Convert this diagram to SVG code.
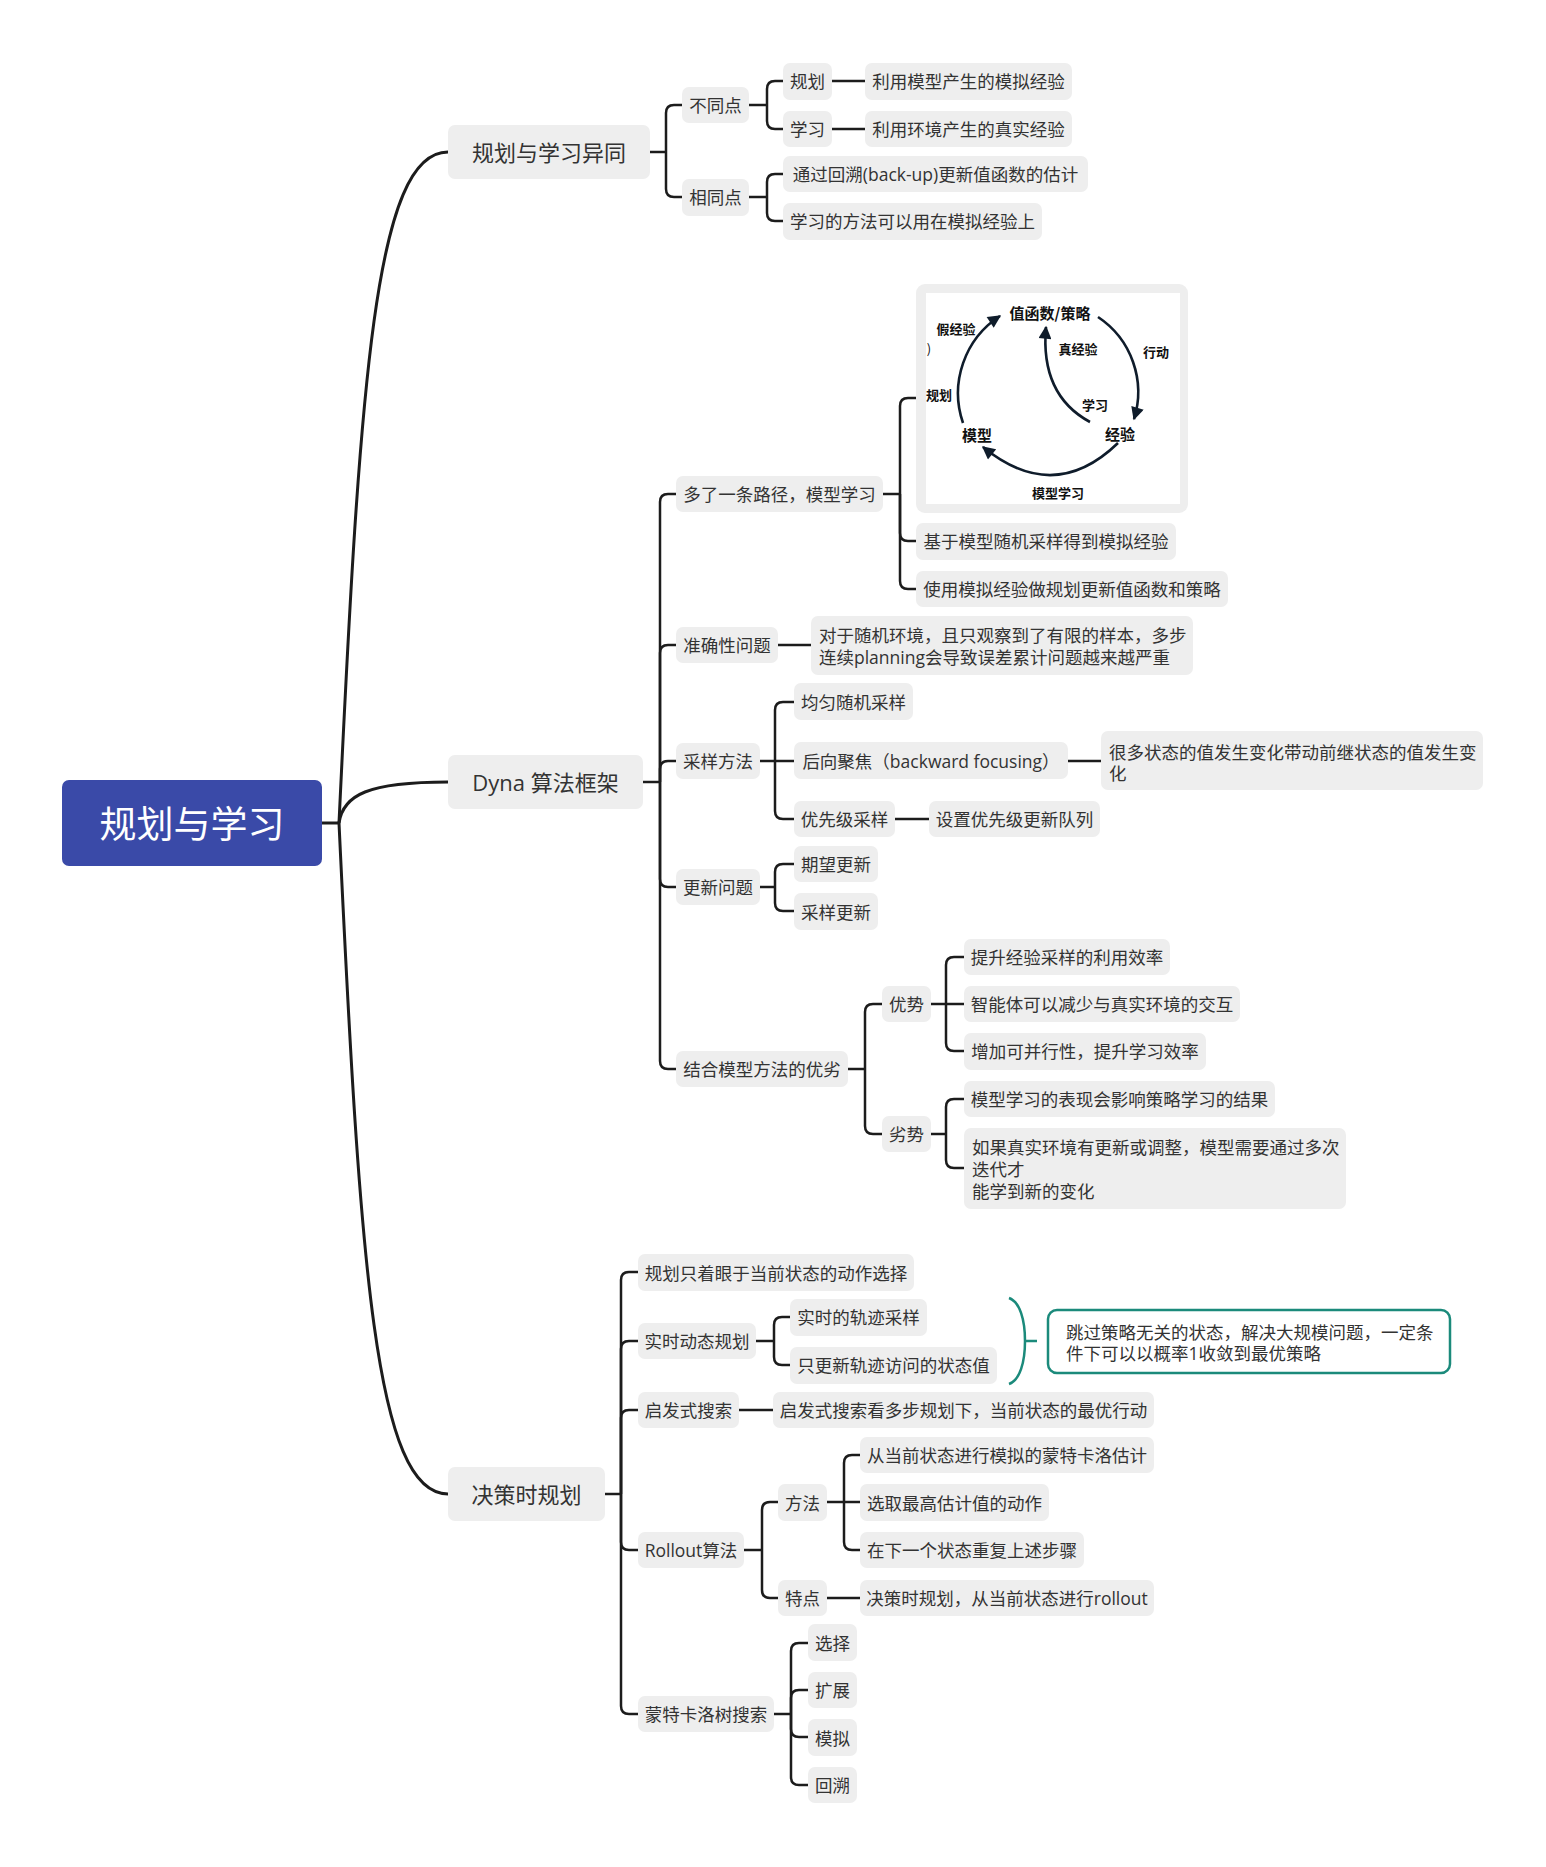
<svg xmlns="http://www.w3.org/2000/svg" width="1546" height="1867" viewBox="0 0 1546 1867">
<defs>
<style>
.n rect{fill:#EEEEEE}
.n rect.w{fill:#FFFFFF}
.t{font-family:"Open Sans","Noto Sans CJK SC",sans-serif;font-size:17.5px;fill:#333333;dominant-baseline:central}
.m{text-anchor:middle}
.l1{font-size:22px}
.c{fill:none;stroke:#1c1c1c;stroke-width:2.5}
.c0{fill:none;stroke:#1c1c1c;stroke-width:3}
.fig{font-family:"Noto Sans CJK SC","Open Sans",sans-serif;font-weight:bold;fill:#111;dominant-baseline:central;text-anchor:middle;font-size:13px}
.arc{fill:none;stroke:#0f1c2b;stroke-width:2.6;marker-end:url(#ah)}
</style>
<marker id="ah" viewBox="0 0 10 10" refX="9" refY="5" markerUnits="userSpaceOnUse" markerWidth="15" markerHeight="13" orient="auto">
<path d="M0,0 L10,5 L0,10 z" fill="#0f1c2b"/>
</marker>
</defs>
<rect width="1546" height="1867" fill="#ffffff"/>

<g id="connectors">
<path class="c0" d="M322,823 H339"/>
<path class="c0" d="M339,823 C360,380 375,152 448,152"/>
<path class="c0" d="M339,823 C343,795 368,782 448,782"/>
<path class="c0" d="M339,823 C360,1266 375,1494 448,1494"/>

<path class="c" d="M650,152 H666"/>
<path class="c" d="M666,152 V113 Q666,105 674,105 H682"/>
<path class="c" d="M666,152 V189 Q666,197 674,197 H682"/>
<path class="c" d="M749,105 H767"/>
<path class="c" d="M767,105 V89 Q767,81 775,81 H783"/>
<path class="c" d="M767,105 V121 Q767,129 775,129 H783"/>
<path class="c" d="M832,81 H865"/>
<path class="c" d="M832,129 H865"/>
<path class="c" d="M749,197 H767"/>
<path class="c" d="M767,197 V182 Q767,174 775,174 H783"/>
<path class="c" d="M767,197 V213 Q767,221 775,221 H783"/>

<path class="c" d="M643,782 H660"/>
<path class="c" d="M660,782 V502 Q660,494 668,494 H676"/>
<path class="c" d="M660,782 V653 Q660,645 668,645 H676"/>
<path class="c" d="M660,782 V769 Q660,761 668,761 H676"/>
<path class="c" d="M660,782 V879 Q660,887 668,887 H676"/>
<path class="c" d="M660,782 V1061 Q660,1069 668,1069 H676"/>
<path class="c" d="M883,494 H900"/>
<path class="c" d="M900,494 V406 Q900,398 908,398 H916"/>
<path class="c" d="M900,494 V533 Q900,541 908,541 H916"/>
<path class="c" d="M900,494 V581 Q900,589 908,589 H916"/>
<path class="c" d="M778,645 H811"/>
<path class="c" d="M760,761 H775"/>
<path class="c" d="M775,761 V710 Q775,702 783,702 H794"/>
<path class="c" d="M775,761 H794"/>
<path class="c" d="M775,761 V811 Q775,819 783,819 H794"/>
<path class="c" d="M1068,761 H1101"/>
<path class="c" d="M895,819 H929"/>
<path class="c" d="M760,887 H775"/>
<path class="c" d="M775,887 V872 Q775,864 783,864 H794"/>
<path class="c" d="M775,887 V903 Q775,911 783,911 H794"/>
<path class="c" d="M848,1069 H865"/>
<path class="c" d="M865,1069 V1012 Q865,1004 873,1004 H882"/>
<path class="c" d="M865,1069 V1126 Q865,1134 873,1134 H882"/>
<path class="c" d="M931,1004 H946"/>
<path class="c" d="M946,1004 V965 Q946,957 954,957 H964"/>
<path class="c" d="M946,1004 H964"/>
<path class="c" d="M946,1004 V1043 Q946,1051 954,1051 H964"/>
<path class="c" d="M931,1134 H946"/>
<path class="c" d="M946,1134 V1107 Q946,1099 954,1099 H964"/>
<path class="c" d="M946,1134 V1160 Q946,1168 954,1168 H964"/>

<path class="c" d="M605,1494 H621"/>
<path class="c" d="M621,1494 V1280 Q621,1272 629,1272 H638"/>
<path class="c" d="M621,1494 V1349 Q621,1341 629,1341 H638"/>
<path class="c" d="M621,1494 V1418 Q621,1410 629,1410 H638"/>
<path class="c" d="M621,1494 V1542 Q621,1550 629,1550 H638"/>
<path class="c" d="M621,1494 V1706 Q621,1714 629,1714 H638"/>
<path class="c" d="M756,1341 H774"/>
<path class="c" d="M774,1341 V1325 Q774,1317 782,1317 H790"/>
<path class="c" d="M774,1341 V1357 Q774,1365 782,1365 H790"/>
<path class="c" d="M739,1410 H773"/>
<path class="c" d="M744,1550 H762"/>
<path class="c" d="M762,1550 V1510 Q762,1502 770,1502 H778"/>
<path class="c" d="M762,1550 V1590 Q762,1598 770,1598 H778"/>
<path class="c" d="M827,1502 H844"/>
<path class="c" d="M844,1502 V1463 Q844,1455 852,1455 H860"/>
<path class="c" d="M844,1502 H860"/>
<path class="c" d="M844,1502 V1542 Q844,1550 852,1550 H860"/>
<path class="c" d="M827,1598 H860"/>
<path class="c" d="M774,1714 H791"/>
<path class="c" d="M791,1714 V1651 Q791,1643 799,1643 H808"/>
<path class="c" d="M791,1714 V1698 Q791,1690 799,1690 H808"/>
<path class="c" d="M791,1714 V1729 Q791,1737 799,1737 H808"/>
<path class="c" d="M791,1714 V1777 Q791,1785 799,1785 H808"/>
</g>

<g id="root"><rect x="62" y="780" width="260" height="86" rx="7" fill="#3A4AA8"/><text class="t m" x="192" y="823" style="font-size:37px;fill:#ffffff">规划与学习</text></g>

<g id="n-yitong" class="n"><rect x="448" y="125" width="202" height="54" rx="7"/><text class="t m l1" x="549" y="152">规划与学习异同</text></g>
<g id="n-butong" class="n"><rect x="682" y="87" width="67" height="36" rx="7"/><text class="t m" x="715.5" y="105">不同点</text></g>
<g id="n-guihua" class="n"><rect x="783" y="63" width="49" height="37" rx="7"/><text class="t m" x="807.5" y="81">规划</text></g>
<g id="n-xuexi" class="n"><rect x="783" y="111" width="49" height="36" rx="7"/><text class="t m" x="807.5" y="129">学习</text></g>
<g id="n-moni" class="n"><rect x="865" y="63" width="207" height="37" rx="7"/><text class="t m" x="968.5" y="81">利用模型产生的模拟经验</text></g>
<g id="n-zhenshi" class="n"><rect x="865" y="111" width="207" height="36" rx="7"/><text class="t m" x="968.5" y="129">利用环境产生的真实经验</text></g>
<g id="n-xiangtong" class="n"><rect x="682" y="179" width="67" height="37" rx="7"/><text class="t m" x="715.5" y="197">相同点</text></g>
<g id="n-huisu1" class="n"><rect x="783" y="156" width="305" height="36" rx="7"/><text class="t m" x="935.5" y="174">通过回溯(back-up)更新值函数的估计</text></g>
<g id="n-fangfa1" class="n"><rect x="783" y="203" width="259" height="37" rx="7"/><text class="t m" x="912.5" y="221">学习的方法可以用在模拟经验上</text></g>

<g id="n-dyna" class="n"><rect x="448" y="755" width="195" height="54" rx="7"/><text class="t m l1" x="545.5" y="782">Dyna 算法框架</text></g>
<g id="n-lujing" class="n"><rect x="676" y="476" width="207" height="36" rx="7"/><text class="t m" x="779.5" y="494">多了一条路径，模型学习</text></g>
<g id="n-figure" class="n"><rect x="916" y="284" width="272" height="229" rx="9"/>
<rect class="w" x="926" y="293" width="254" height="211"/>
<path class="arc" d="M963,423 A92,92 0 0 1 1000,316"/>
<path class="arc" d="M1098,317 A90,90 0 0 1 1134,419"/>
<path class="arc" d="M1118,443 Q1054,505 983,447"/>
<path class="arc" d="M1090,422 Q1040,395 1046,327"/>
<text class="fig" x="1050" y="312" style="font-size:15px">值函数/策略</text>
<text class="fig" x="956" y="328">假经验</text>
<text class="fig" x="929" y="348" style="font-weight:normal">)</text>
<text class="fig" x="1078" y="348">真经验</text>
<text class="fig" x="1156" y="351">行动</text>
<text class="fig" x="939" y="394">规划</text>
<text class="fig" x="1095" y="404">学习</text>
<text class="fig" x="977" y="434" style="font-size:15px">模型</text>
<text class="fig" x="1120" y="433" style="font-size:15px">经验</text>
<text class="fig" x="1058" y="492">模型学习</text>
</g>
<g id="n-jiyu" class="n"><rect x="916" y="523" width="260" height="37" rx="7"/><text class="t m" x="1046" y="541">基于模型随机采样得到模拟经验</text></g>
<g id="n-shiyong" class="n"><rect x="916" y="571" width="312" height="36" rx="7"/><text class="t m" x="1072" y="589">使用模拟经验做规划更新值函数和策略</text></g>
<g id="n-zhunque" class="n"><rect x="676" y="627" width="102" height="36" rx="7"/><text class="t m" x="727" y="645">准确性问题</text></g>
<g id="n-suiji" class="n"><rect x="811" y="616" width="382" height="59" rx="7"/><text class="t" x="819" y="635">对于随机环境，且只观察到了有限的样本，多步<tspan x="819" y="657">连续planning会导致误差累计问题越来越严重</tspan></text></g>
<g id="n-caiyang" class="n"><rect x="676" y="743" width="84" height="36" rx="7"/><text class="t m" x="718" y="761">采样方法</text></g>
<g id="n-junyun" class="n"><rect x="794" y="683" width="119" height="37" rx="7"/><text class="t m" x="853.5" y="701.5">均匀随机采样</text></g>
<g id="n-houxiang" class="n"><rect x="794" y="742" width="274" height="37" rx="7"/><text class="t m" x="931" y="761">后向聚焦（backward focusing）</text></g>
<g id="n-henduo" class="n"><rect x="1101" y="731" width="382" height="59" rx="7"/><text class="t" x="1109" y="752">很多状态的值发生变化带动前继状态的值发生变<tspan x="1109" y="773">化</tspan></text></g>
<g id="n-youxian" class="n"><rect x="794" y="801" width="101" height="36" rx="7"/><text class="t m" x="844.5" y="819">优先级采样</text></g>
<g id="n-duilie" class="n"><rect x="929" y="801" width="171" height="36" rx="7"/><text class="t m" x="1014.5" y="819">设置优先级更新队列</text></g>
<g id="n-gengxin" class="n"><rect x="676" y="869" width="84" height="36" rx="7"/><text class="t m" x="718" y="887">更新问题</text></g>
<g id="n-qiwang" class="n"><rect x="794" y="846" width="84" height="36" rx="7"/><text class="t m" x="836" y="864">期望更新</text></g>
<g id="n-cygx" class="n"><rect x="794" y="893" width="84" height="37" rx="7"/><text class="t m" x="836" y="911.5">采样更新</text></g>
<g id="n-jiehe" class="n"><rect x="676" y="1051" width="172" height="36" rx="7"/><text class="t m" x="762" y="1069">结合模型方法的优劣</text></g>
<g id="n-youshi" class="n"><rect x="882" y="986" width="49" height="36" rx="7"/><text class="t m" x="906.5" y="1004">优势</text></g>
<g id="n-tisheng" class="n"><rect x="964" y="939" width="206" height="36" rx="7"/><text class="t m" x="1067" y="957">提升经验采样的利用效率</text></g>
<g id="n-zhineng" class="n"><rect x="964" y="986" width="276" height="36" rx="7"/><text class="t m" x="1102" y="1004">智能体可以减少与真实环境的交互</text></g>
<g id="n-bingxing" class="n"><rect x="964" y="1033" width="242" height="37" rx="7"/><text class="t m" x="1085" y="1051">增加可并行性，提升学习效率</text></g>
<g id="n-lieshi" class="n"><rect x="882" y="1116" width="49" height="36" rx="7"/><text class="t m" x="906.5" y="1134">劣势</text></g>
<g id="n-biaoxian" class="n"><rect x="964" y="1081" width="311" height="36" rx="7"/><text class="t m" x="1119.5" y="1099">模型学习的表现会影响策略学习的结果</text></g>
<g id="n-ruguo" class="n"><rect x="964" y="1128" width="382" height="81" rx="7"/><text class="t" x="972" y="1147">如果真实环境有更新或调整，模型需要通过多次<tspan x="972" y="1169">迭代才</tspan><tspan x="972" y="1191">能学到新的变化</tspan></text></g>

<g id="n-juece" class="n"><rect x="448" y="1467" width="157" height="54" rx="7"/><text class="t m l1" x="526.5" y="1494">决策时规划</text></g>
<g id="n-zhuoyan" class="n"><rect x="638" y="1254" width="276" height="37" rx="7"/><text class="t m" x="776" y="1272.5">规划只着眼于当前状态的动作选择</text></g>
<g id="n-rtdp" class="n"><rect x="638" y="1323" width="118" height="36" rx="7"/><text class="t m" x="697" y="1341">实时动态规划</text></g>
<g id="n-guiji" class="n"><rect x="790" y="1299" width="137" height="37" rx="7"/><text class="t m" x="858.5" y="1317">实时的轨迹采样</text></g>
<g id="n-zhigengxin" class="n"><rect x="790" y="1347" width="207" height="37" rx="7"/><text class="t m" x="893.5" y="1365">只更新轨迹访问的状态值</text></g>
<g id="n-summary"><path d="M1009,1298 C1020,1302 1025,1320 1025,1341 C1025,1362 1020,1380 1009,1384 M1025,1341 H1037" fill="none" stroke="#1b8a7b" stroke-width="2.5"/>
<rect x="1048" y="1310" width="402" height="63" rx="9" fill="#ffffff" stroke="#1b8a7b" stroke-width="2.5"/><text class="t" x="1066" y="1332">跳过策略无关的状态，解决大规模问题，一定条<tspan x="1066" y="1353">件下可以以概率1收敛到最优策略</tspan></text></g>
<g id="n-qifa" class="n"><rect x="638" y="1392" width="101" height="36" rx="7"/><text class="t m" x="688.5" y="1410">启发式搜索</text></g>
<g id="n-qifa2" class="n"><rect x="773" y="1392" width="381" height="36" rx="7"/><text class="t m" x="963.5" y="1410">启发式搜索看多步规划下，当前状态的最优行动</text></g>
<g id="n-rollout" class="n"><rect x="638" y="1532" width="106" height="36" rx="7"/><text class="t m" x="691" y="1550">Rollout算法</text></g>
<g id="n-fangfa" class="n"><rect x="778" y="1484" width="49" height="37" rx="7"/><text class="t m" x="802.5" y="1502.5">方法</text></g>
<g id="n-mc" class="n"><rect x="860" y="1437" width="294" height="36" rx="7"/><text class="t m" x="1007" y="1455">从当前状态进行模拟的蒙特卡洛估计</text></g>
<g id="n-xuanqu" class="n"><rect x="860" y="1484" width="189" height="37" rx="7"/><text class="t m" x="954.5" y="1502.5">选取最高估计值的动作</text></g>
<g id="n-chongfu" class="n"><rect x="860" y="1532" width="224" height="36" rx="7"/><text class="t m" x="972" y="1550">在下一个状态重复上述步骤</text></g>
<g id="n-tedian" class="n"><rect x="778" y="1580" width="49" height="36" rx="7"/><text class="t m" x="802.5" y="1598">特点</text></g>
<g id="n-tedian2" class="n"><rect x="860" y="1580" width="294" height="36" rx="7"/><text class="t m" x="1007" y="1598">决策时规划，从当前状态进行rollout</text></g>
<g id="n-mcts" class="n"><rect x="638" y="1696" width="136" height="36" rx="7"/><text class="t m" x="706" y="1714">蒙特卡洛树搜索</text></g>
<g id="n-xuanze" class="n"><rect x="808" y="1624" width="49" height="37" rx="7"/><text class="t m" x="832.5" y="1642.5">选择</text></g>
<g id="n-kuozhan" class="n"><rect x="808" y="1672" width="49" height="36" rx="7"/><text class="t m" x="832.5" y="1690">扩展</text></g>
<g id="n-moni2" class="n"><rect x="808" y="1719" width="49" height="37" rx="7"/><text class="t m" x="832.5" y="1737.5">模拟</text></g>
<g id="n-huisu" class="n"><rect x="808" y="1767" width="49" height="36" rx="7"/><text class="t m" x="832.5" y="1785">回溯</text></g>
</svg>
